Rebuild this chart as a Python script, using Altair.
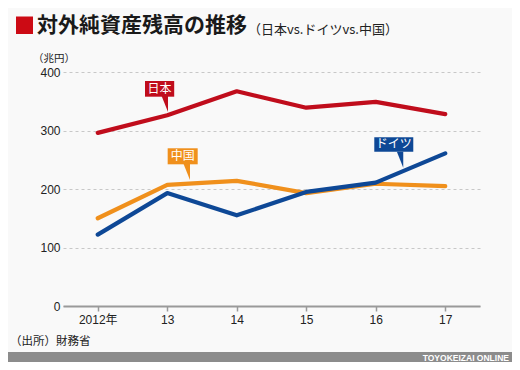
import altair as alt
import pandas as pd

# ---- data ----
years = [2012, 2013, 2014, 2015, 2016, 2017]
japan = [296, 326, 367, 339, 349, 328]
china = [150, 207, 214, 193, 209, 205]
germany = [122, 193, 155, 195, 211, 261]

series_names = ["日本", "中国", "ドイツ"]
series_colors = ["#c00d1c", "#f0901c", "#0e4896"]

y_ticks = [0, 100, 200, 300, 400]

# callout boxes (data coordinates: year / 兆円)
call_name = ["日本", "中国", "ドイツ"]
call_color = series_colors
call_bx0 = [2012.68, 2013.006, 2015.979]
call_bx1 = [2013.10, 2013.438, 2016.540]
call_by0 = [357.8, 242.2, 263.8]
call_by1 = [384.6, 269.6, 288.4]
call_cx = [2012.89, 2013.222, 2016.26]
call_cy = [371.1, 256.0, 276.1]
call_px = [2012.965, 2013.281, 2016.350]
call_py = [345.3, 229.1, 250.1]

W, H = 417, 234
FONT = "Noto Sans CJK JP"
NUMFONT = "Liberation Sans, 'Noto Sans CJK JP'"

xscale = alt.Scale(domain=[2011.5, 2017.5], nice=False, zero=False)
yscale = alt.Scale(domain=[0, 400], nice=False)

frames = []
for name, vals in zip(series_names, [japan, china, germany]):
    frames.append(pd.DataFrame({"year": years, "value": vals, "series": name}))

def line_layer(df, color, with_axes=False):
    if with_axes:
        x = alt.X("year:Q", scale=xscale, title=None,
                  axis=alt.Axis(values=years,
                                labelExpr="datum.value == 2012 ? '2012年' : '' + (datum.value - 2000)",
                                grid=False, domainColor="#9a9a9a", domainWidth=2,
                                tickColor="#9a9a9a", tickSize=5, tickWidth=1.5,
                                labelFont=NUMFONT, labelFontSize=12, labelColor="#222222",
                                labelPadding=3))
        y = alt.Y("value:Q", scale=yscale, title=None,
                  axis=alt.Axis(values=y_ticks, domain=False, ticks=False,
                                grid=True, gridColor="#c8c8c8", gridDash=[3, 3], gridWidth=1,
                                labelFont=NUMFONT, labelFontSize=12, labelColor="#222222",
                                labelPadding=3))
    else:
        x = alt.X("year:Q", scale=xscale)
        y = alt.Y("value:Q", scale=yscale)
    return alt.Chart(df).mark_line(color=color, strokeWidth=4.2, strokeCap="round",
                                   strokeJoin="round").encode(x=x, y=y)

lines = [line_layer(frames[0], series_colors[0], True),
         line_layer(frames[1], series_colors[1]),
         line_layer(frames[2], series_colors[2])]

call_df = pd.DataFrame({"name": call_name, "color": call_color,
                        "bx0": call_bx0, "bx1": call_bx1, "by0": call_by0, "by1": call_by1,
                        "cx": call_cx, "cy": call_cy, "px": call_px, "py": call_py})

boxes = alt.Chart(call_df).mark_rect().encode(
    x=alt.X("bx0:Q", scale=xscale), x2="bx1:Q",
    y=alt.Y("by0:Q", scale=yscale), y2="by1:Q",
    color=alt.Color("color:N", scale=None))
pointers = alt.Chart(call_df).mark_point(
    shape="M -0.4 -1 L 0.4 -1 L 0.4 1 Z", filled=True, opacity=1, size=256, strokeWidth=0
).encode(x=alt.X("px:Q", scale=xscale), y=alt.Y("py:Q", scale=yscale),
         color=alt.Color("color:N", scale=None))
box_text = alt.Chart(call_df).mark_text(font=FONT, fontSize=12, color="white",
                                        baseline="middle", align="center").encode(
    x=alt.X("cx:Q", scale=xscale), y=alt.Y("cy:Q", scale=yscale), text="name:N")

one = pd.DataFrame({"a": [0]})

def txt(s, x, y, size, weight="normal", color="#222222", align="left", font=FONT):
    return alt.Chart(one).mark_text(text=s, font=font, fontSize=size, fontWeight=weight,
                                    color=color, align=align, baseline="middle").encode(
        x=alt.value(x), y=alt.value(y))

title_sq = alt.Chart(one).mark_rect(color="#cc0a14").encode(
    x=alt.value(-47), x2=alt.value(-30), y=alt.value(-55.5), y2=alt.value(-38))
title = txt("対外純資産残高の推移", -26, -46.5, 21, "bold", "#1a1a1a")
subtitle = txt("（日本vs.ドイツvs.中国）", 185, -42, 13, "normal", "#222222")
unit = txt("（兆円）", -30, -13, 10.5, "normal", "#222222")
source = txt("（出所）財務省", -53, 269.5, 11.5, "normal", "#222222")
bar = alt.Chart(one).mark_rect(color="#8c8c8c").encode(
    x=alt.value(-55), x2=alt.value(449), y=alt.value(280), y2=alt.value(290))
brand = txt("TOYOKEIZAI ONLINE", 446, 285.5, 8.5, "bold", "#ffffff", "right", "Liberation Sans")

chart = alt.layer(*lines, boxes, pointers, box_text, title_sq, title, subtitle, unit,
                  source, bar, brand).properties(
    width=W, height=H,
    autosize=alt.AutoSizeParams(type="none"),
    padding={"left": 55, "top": 64, "right": 32, "bottom": 56},
    background="#f9f9f9",
).configure_view(stroke=None)

chart.save("out.html", embed_options={"renderer": "svg", "actions": False})
